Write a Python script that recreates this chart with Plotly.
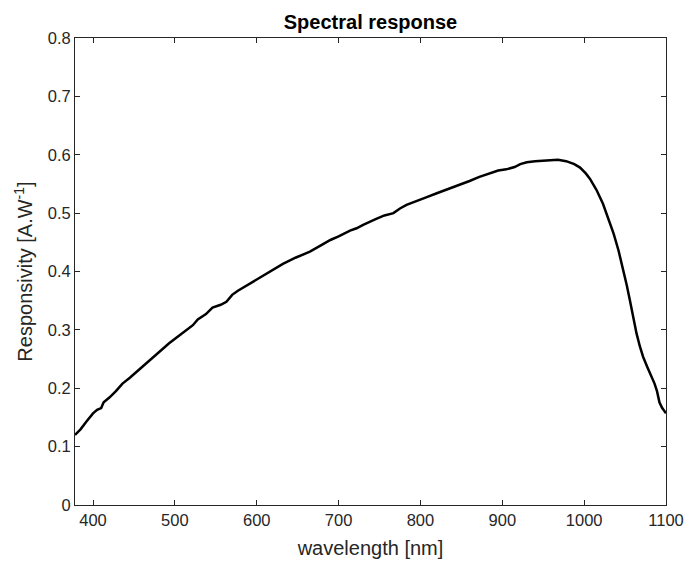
import plotly.graph_objects as go

wavelength_nm = [378, 385, 392, 400, 405, 410, 413, 420, 428, 436, 445, 453, 462, 470, 481, 493,
                 505, 514, 522, 528, 538, 546, 556, 563, 570, 577, 590, 600, 616, 632, 648, 665,
                 680, 690, 700, 714, 722, 730, 746, 756, 767, 775, 783, 795, 807, 820, 836, 848,
                 860, 872, 885, 895, 905, 915, 922, 930, 940, 950, 960, 968, 978, 988, 995, 1002,
                 1007, 1015, 1023, 1030, 1036, 1042, 1048, 1052, 1056, 1060, 1064, 1068, 1072,
                 1077, 1082, 1086, 1089, 1092, 1095, 1100]
responsivity = [0.120, 0.130, 0.143, 0.157, 0.163, 0.166, 0.176, 0.184, 0.195, 0.208, 0.218, 0.228,
                0.240, 0.249, 0.262, 0.277, 0.290, 0.299, 0.308, 0.318, 0.327, 0.338, 0.343, 0.348,
                0.360, 0.367, 0.378, 0.386, 0.399, 0.413, 0.424, 0.434, 0.446, 0.454, 0.460, 0.470,
                0.474, 0.480, 0.490, 0.496, 0.500, 0.508, 0.514, 0.520, 0.527, 0.534, 0.542, 0.548,
                0.555, 0.562, 0.568, 0.573, 0.575, 0.579, 0.584, 0.587, 0.589, 0.590, 0.591, 0.5915,
                0.589, 0.584, 0.578, 0.568, 0.559, 0.540, 0.516, 0.490, 0.465, 0.436, 0.402, 0.377,
                0.350, 0.320, 0.294, 0.272, 0.254, 0.237, 0.222, 0.208, 0.195, 0.176, 0.167, 0.157]

x_ticks = [400, 500, 600, 700, 800, 900, 1000, 1100]
y_ticks = [0, 0.1, 0.2, 0.3, 0.4, 0.5, 0.6, 0.7, 0.8]
y_tick_labels = ["0", "0.1", "0.2", "0.3", "0.4", "0.5", "0.6", "0.7", "0.8"]

axis_color = "#262626"
font_family = "Liberation Sans, Arial, sans-serif"

fig = go.Figure()
fig.add_trace(go.Scatter(x=wavelength_nm, y=responsivity, mode="lines",
                         line=dict(color="black", width=2.5), showlegend=False))

axis_common = dict(showline=True, linecolor=axis_color, linewidth=1, mirror="ticks",
                   ticks="inside", ticklen=5, tickcolor=axis_color, showgrid=False,
                   zeroline=False, automargin=False,
                   tickfont=dict(size=16.5, color=axis_color, family=font_family))

fig.update_xaxes(range=[378, 1100], tickvals=x_ticks, ticktext=[str(v) for v in x_ticks],
                 title=dict(text="wavelength [nm]", font=dict(size=20, color=axis_color, family=font_family),
                            standoff=13),
                 **axis_common)
fig.update_yaxes(range=[0, 0.8], tickvals=y_ticks, ticktext=y_tick_labels,
                 title=dict(text="Responsivity [A.W<sup>-1</sup>]",
                            font=dict(size=20, color=axis_color, family=font_family), standoff=9),
                 **axis_common)

fig.update_layout(
    width=687, height=562,
    margin=dict(l=75, r=21, t=38, b=57),
    paper_bgcolor="white", plot_bgcolor="white",
    title=dict(text="<b>Spectral response</b>", x=0.5, xref="paper", xanchor="center",
               y=1 - 22 / 562, yref="container", yanchor="middle",
               font=dict(size=20, color="black", family=font_family)),
    font=dict(family=font_family, color=axis_color),
)

fig.write_html("out.html")
